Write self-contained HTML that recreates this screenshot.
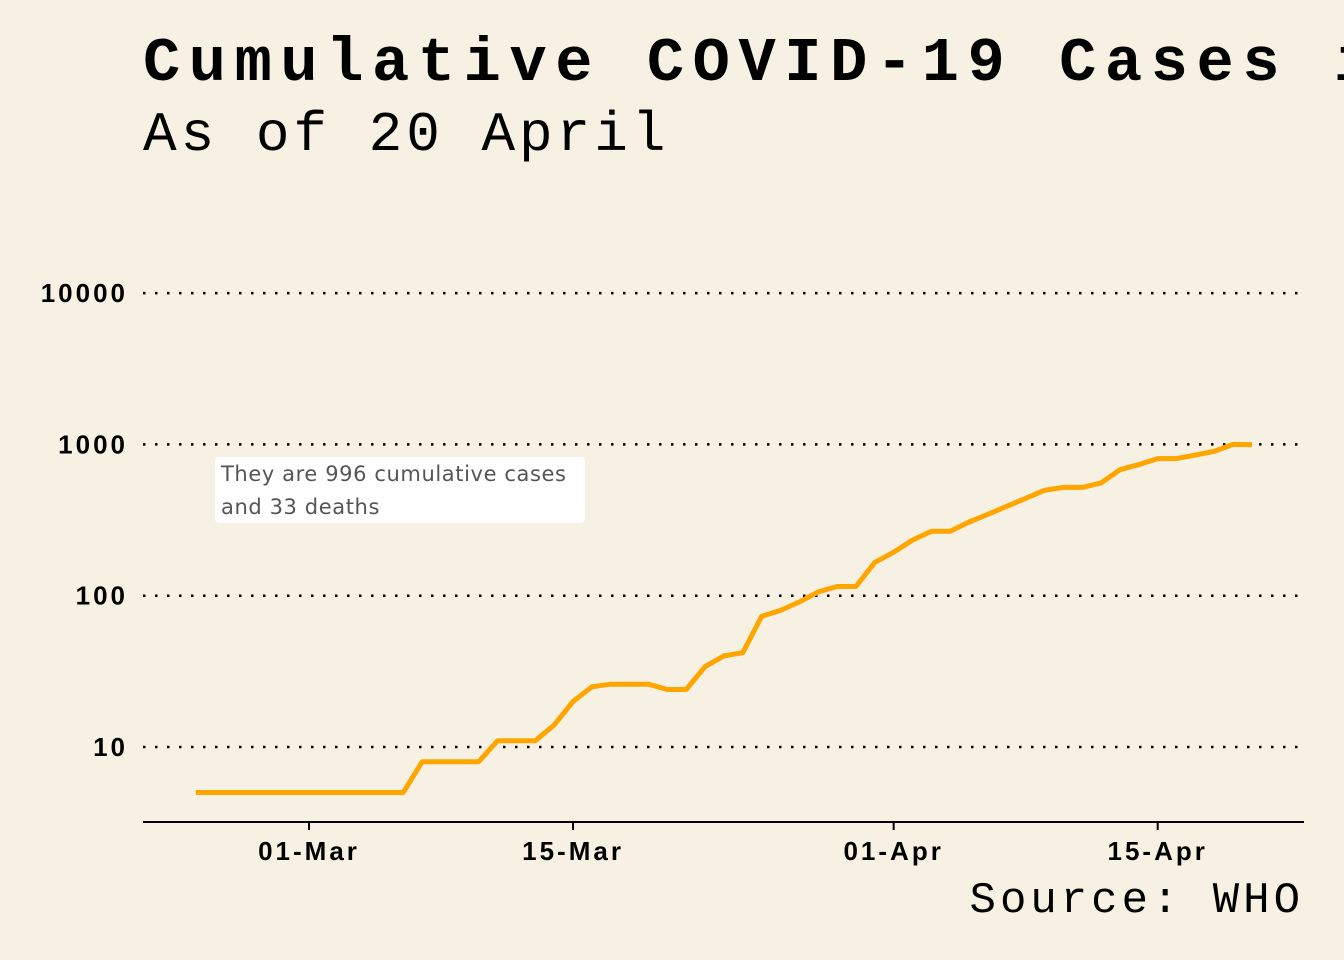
<!DOCTYPE html>
<html><head><meta charset="utf-8"><style>
body{margin:0;background:#f7f1e3;}
svg{display:block}
</style></head><body>
<svg id="chart" width="1344" height="960" xmlns="http://www.w3.org/2000/svg">
<rect width="1344" height="960" fill="#f7f1e3"/>
<text x="143" y="80" font-family="Liberation Mono, monospace" font-weight="bold" font-size="62" letter-spacing="8.6" fill="#000">Cumulative COVID-19 Cases in</text>
<text x="143" y="150" font-family="Liberation Mono, monospace" font-size="56" letter-spacing="4" fill="#000">As of 20 April</text>
<g id="grid"></g>
<g id="yticks"></g>
<g id="xticks"></g>
<line x1="143" x2="1304" y1="822" y2="822" stroke="#000" stroke-width="2"/>
<polyline id="line" fill="none" stroke="#ffa500" stroke-width="5" stroke-linejoin="round"/>
<rect x="215" y="457" width="370" height="66" rx="4" fill="#fff"/>
<text x="221" y="481" font-family="DejaVu Sans, sans-serif" font-size="21" letter-spacing="0.6" fill="#555">They are 996 cumulative cases</text>
<text x="221" y="514" font-family="DejaVu Sans, sans-serif" font-size="21" letter-spacing="0.6" fill="#555">and 33 deaths</text>
<text x="1304" y="912" text-anchor="end" font-family="Liberation Mono, monospace" font-size="44" letter-spacing="4" fill="#000">Source: WHO</text>
</svg>
<script>
const startDay = -6; // Feb 24 relative to Mar 1
const cases = [5,5,5,5,5,5,5,5,5,5,5,5,8,8,8,8,11,11,11,14,20,25,26,26,26,24,24,34,40,42,73,80,91,106,115,115,166,194,233,267,267,307,345,390,440,497,520,520,557,680,735,806,806,850,900,1000,996];
const yTicks = [10,100,1000,10000];
const yTickLabels = ["10","100","1000","10000"];
const xTickDays = [0,14,31,45];
const xTickLabels = ["01-Mar","15-Mar","01-Apr","15-Apr"];
const NS="http://www.w3.org/2000/svg";
function xs(d){return 309+(d)*18.86;}
function ys(v){return 747-(Math.log10(v)-1)*151.3;}
const grid=document.getElementById('grid'),yt=document.getElementById('yticks'),xt=document.getElementById('xticks');
yTicks.forEach((v,i)=>{
 const l=document.createElementNS(NS,'line');
 l.setAttribute('x1',143);l.setAttribute('x2',1304);l.setAttribute('y1',ys(v));l.setAttribute('y2',ys(v));
 l.setAttribute('stroke','#000');l.setAttribute('stroke-width','2.5');l.setAttribute('stroke-dasharray','2.5 9.5');
 
 
 grid.appendChild(l);
 const t=document.createElementNS(NS,'text');
 t.setAttribute('x',128);t.setAttribute('y',ys(v)+9);t.setAttribute('text-anchor','end');
 t.setAttribute('font-family','Liberation Sans, sans-serif');t.setAttribute('font-weight','bold');t.setAttribute('font-size','26');
 t.setAttribute('letter-spacing','3');
 t.textContent=yTickLabels[i];
 
 
 yt.appendChild(t);
});
xTickDays.forEach((d,i)=>{
 const l=document.createElementNS(NS,'line');
 l.setAttribute('x1',xs(d));l.setAttribute('x2',xs(d));l.setAttribute('y1',822);l.setAttribute('y2',830);
 l.setAttribute('stroke','#000');l.setAttribute('stroke-width','2');
 
 
 xt.appendChild(l);
 const t=document.createElementNS(NS,'text');
 t.setAttribute('x',xs(d));t.setAttribute('y',860);t.setAttribute('text-anchor','middle');
 t.setAttribute('font-family','Liberation Sans, sans-serif');t.setAttribute('font-weight','bold');t.setAttribute('font-size','26');
 t.setAttribute('letter-spacing','3');
 t.textContent=xTickLabels[i];
 
 
 xt.appendChild(t);
});
document.getElementById('line').setAttribute('points',cases.map((v,i)=>xs(startDay+i).toFixed(1)+','+ys(v).toFixed(1)).join(' '));
</script>
</body></html>
